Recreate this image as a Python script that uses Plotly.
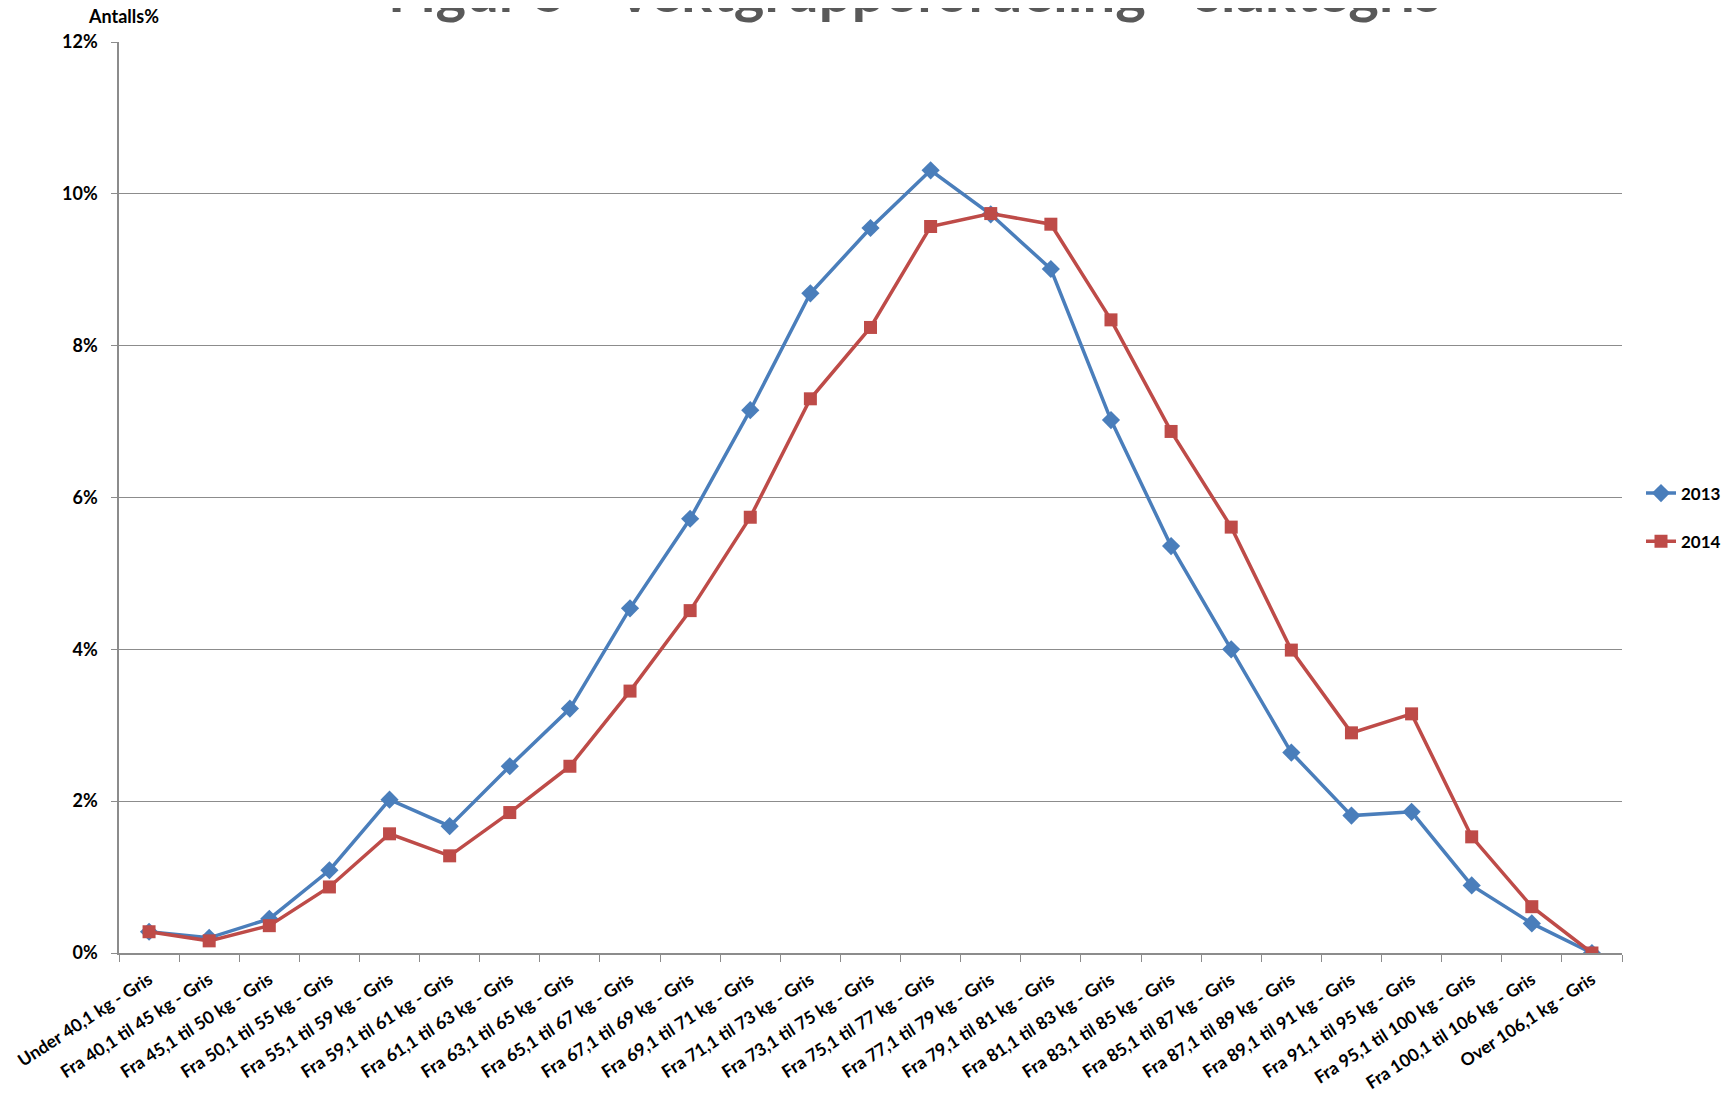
import plotly.graph_objects as go

categories = [
    "Under 40,1 kg - Gris", "Fra 40,1 til 45 kg - Gris", "Fra 45,1 til 50 kg - Gris",
    "Fra 50,1 til 55 kg - Gris", "Fra 55,1 til 59 kg - Gris", "Fra 59,1 til 61 kg - Gris",
    "Fra 61,1 til 63 kg - Gris", "Fra 63,1 til 65 kg - Gris", "Fra 65,1 til 67 kg - Gris",
    "Fra 67,1 til 69 kg - Gris", "Fra 69,1 til 71 kg - Gris", "Fra 71,1 til 73 kg - Gris",
    "Fra 73,1 til 75 kg - Gris", "Fra 75,1 til 77 kg - Gris", "Fra 77,1 til 79 kg - Gris",
    "Fra 79,1 til 81 kg - Gris", "Fra 81,1 til 83 kg - Gris", "Fra 83,1 til 85 kg - Gris",
    "Fra 85,1 til 87 kg - Gris", "Fra 87,1 til 89 kg - Gris", "Fra 89,1 til 91 kg - Gris",
    "Fra 91,1 til 95 kg - Gris", "Fra 95,1 til 100 kg - Gris", "Fra 100,1 til 106 kg - Gris",
    "Over 106,1 kg - Gris",
]

values_2013 = [0.28, 0.20, 0.45, 1.09, 2.02, 1.67, 2.46, 3.22, 4.54, 5.72, 7.15, 8.69, 9.55,
               10.31, 9.73, 9.01, 7.02, 5.36, 4.00, 2.64, 1.81, 1.86, 0.89, 0.39, 0.00]
values_2014 = [0.28, 0.16, 0.36, 0.87, 1.57, 1.28, 1.85, 2.46, 3.45, 4.51, 5.74, 7.30, 8.24,
               9.57, 9.74, 9.60, 8.34, 6.87, 5.61, 3.99, 2.90, 3.15, 1.53, 0.61, 0.00]

y_ticks = [0, 2, 4, 6, 8, 10, 12]
y_tick_labels = ["0%", "2%", "4%", "6%", "8%", "10%", "12%"]

title_text = "Figur 5 - Vektgruppefordeling - slaktegris"
y_title = "Antalls%"

FONT = "Lato"
BLUE = "#4A7EBB"
RED = "#BE4B48"
GRID = "#8C8C8C"

fig = go.Figure()
fig.add_trace(go.Scatter(
    x=categories, y=values_2013, name="2013", mode="lines+markers",
    line=dict(color=BLUE, width=3.5),
    marker=dict(symbol="diamond", size=14, color=BLUE),
    legendgroup="a",
))
fig.add_trace(go.Scatter(
    x=categories, y=values_2014, name="2014", mode="lines+markers",
    line=dict(color=RED, width=3.5),
    marker=dict(symbol="square", size=13, color=RED),
    legendgroup="b",
))

# page body adds an 8px offset, so the figure is 8px smaller than the window
W, H = 1724, 1089
L, R, T, B = 111, 110, 34, 144
plot_w = W - L - R
plot_h = H - T - B

legend_y_px = T + (1 - 0.478) * plot_h

fig.update_layout(
    width=W, height=H,
    margin=dict(l=L, r=R, t=T, b=B),
    paper_bgcolor="white", plot_bgcolor="white",
    font=dict(family=FONT, size=16, color="black"),
    showlegend=True,
    legend=dict(
        xref="container", yref="container",
        x=1633 / W, xanchor="left", y=1 - legend_y_px / H, yanchor="middle",
        font=dict(family=FONT, size=17, color="black", weight="bold"),
        traceorder="grouped", tracegroupgap=23,
        bgcolor="rgba(0,0,0,0)",
    ),
    xaxis=dict(
        type="category", range=[-0.5, len(categories) - 0.5],
        tickson="boundaries", ticks="outside", ticklen=7, tickcolor=GRID,
        showline=True, linecolor=GRID, linewidth=1.5, showgrid=False,
        ticklabelstandoff=8, automargin=False,
        tickangle=-33, tickfont=dict(family=FONT, size=17.5, color="black", weight="bold"),
    ),
    yaxis=dict(
        range=[0, 12], tickvals=y_ticks, ticktext=y_tick_labels,
        ticks="outside", ticklen=6, tickcolor=GRID,
        showline=True, linecolor=GRID, linewidth=1.5,
        showgrid=True, gridcolor=GRID, gridwidth=1,
        zeroline=False, ticklabelstandoff=10, automargin=False,
        tickfont=dict(family=FONT, size=18, color="black", weight="bold"),
    ),
    annotations=[
        dict(text=title_text, xref="paper", yref="paper",
             x=(906 - L) / plot_w, y=1 + (T + 18.6) / plot_h,
             xanchor="center", yanchor="middle", showarrow=False,
             font=dict(family=FONT, size=58, color="#595959", weight="bold")),
        dict(text=y_title, xref="paper", yref="paper",
             x=(78 - L) / plot_w, y=1 + (T - 7.5) / plot_h,
             xanchor="left", yanchor="middle", showarrow=False,
             font=dict(family=FONT, size=18, color="black", weight="bold")),
    ],
)

fig.write_html("out.html")
